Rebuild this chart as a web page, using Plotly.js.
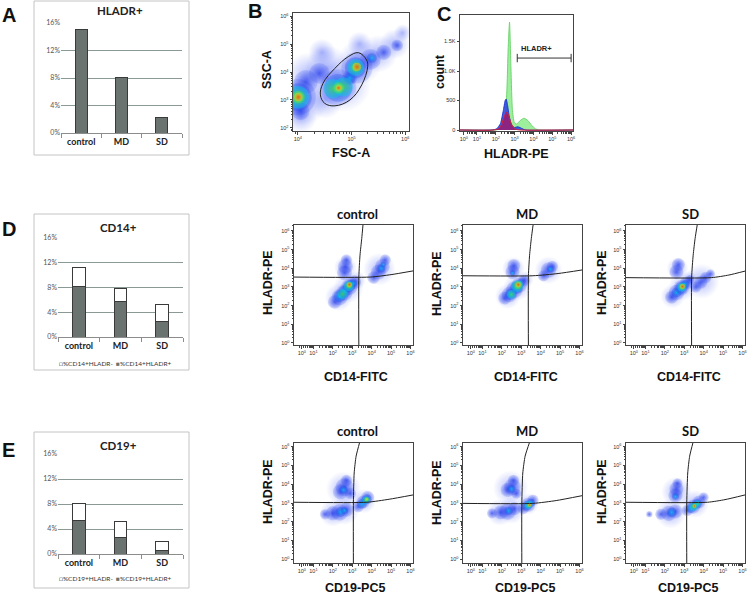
<!DOCTYPE html>
<html><head><meta charset="utf-8">
<script src="https://cdn.plot.ly/plotly-3.0.1.min.js"></script>
<style>html,body{margin:0;padding:0;background:#fff}#chart{width:747px;height:594px}</style>
</head><body><div id="chart"></div>
<script>
const W = 747, H = 594;

// ---------- bar chart data (percent) ----------
const groups = ['control', 'MD', 'SD'];
const hladrPct = [15.0, 8.1, 2.3];
const cd14HladrPos = [8.2, 5.7, 2.5];
const cd14HladrNeg = [3.0, 2.1, 2.8];
const cd19HladrPos = [5.3, 2.7, 0.6];
const cd19HladrNeg = [2.85, 2.45, 1.4];
const pctTicks = [0, 4, 8, 12, 16];

// ---------- histogram (panel C), x in log10 units, y = count ----------
const histGreenX = [0.1, 2.0, 2.25, 2.45, 2.58, 2.66, 2.73, 2.8, 2.88, 2.98, 3.1, 3.3, 3.5, 3.7, 3.9, 4.1, 4.3, 6.1];
const histGreenY = [0, 0, 20, 120, 600, 1400, 1830, 1100, 350, 130, 100, 160, 200, 160, 80, 20, 0, 0];
const histBlueX = [0.1, 1.8, 2.05, 2.25, 2.4, 2.5, 2.55, 2.62, 2.72, 2.85, 3.0, 3.15, 3.3, 3.45, 3.6, 6.1];
const histBlueY = [0, 0, 20, 110, 330, 500, 525, 430, 220, 80, 40, 55, 40, 15, 0, 0];
const histRedX = [0.1, 1.9, 2.15, 2.3, 2.45, 2.55, 2.6, 2.7, 2.8, 2.95, 3.1, 3.3, 6.1];
const histRedY = [0, 0, 20, 90, 230, 295, 300, 230, 120, 40, 10, 0, 0];
const hladrGateX = [3.14, 6.0];
const hladrGateY = [1220, 1220];

// ---------- flow density clusters: x,y in log10 units, spread in decades, density level 0-5 ----------
// Panel B (FSC-A vs SSC-A)
const bX = [4.1,4.2,4.55,4.85,5.15,5.5,5.8,4.05,4.5,4.45,5.15,5.95, 4.0,4.05,4.15,4.4,4.75,5.1,5.35,5.6,5.85,4.97, 4.0,4.75,5.07,4.97,5.38, 4.0,4.65,4.85,5.08, 4.01,4.76,5.09, 4.01,4.76,5.1];
const bY = [3.0,3.9,4.15,3.55,4.35,4.65,5.0,2.4,3.0,4.7,5.0,5.4, 3.1,2.6,3.65,3.95,3.45,4.15,4.45,4.7,4.95,3.8, 3.1,3.43,4.15,3.78,4.5, 3.1,3.4,3.47,4.16, 3.1,3.43,4.17, 3.1,3.43,4.18];
const bSpread = [0.75,0.67,0.67,0.82,0.67,0.56,0.45,0.49,0.56,0.41,0.37,0.26, 0.52,0.26,0.34,0.3,0.52,0.45,0.3,0.22,0.17,0.22, 0.37,0.37,0.28,0.15,0.13, 0.28,0.24,0.24,0.21, 0.15,0.13,0.11, 0.09,0.06,0.09];
const bLevel = [0,0,0,0,0,0,0,0,0,0,0,0, 1,1,1,1,1,1,1,1,1,1, 2,2,2,2,2, 3,3,3,3, 4,4,4, 5,5,5];
const bGateX = [5.13,5.28,5.30,5.19,4.97,4.69,4.50,4.42,4.47,4.69,4.94,5.13];
const bGateY = [4.69,4.43,4.19,3.54,3.0,2.79,2.88,3.18,3.60,4.13,4.55,4.69];

// Panel D: CD14-FITC vs HLADR-PE
const dCtrlX = [2.65,2.3,2.8,3.2,4.4, 2.6,2.65,2.7,2.1,2.35,2.6,2.85,3.1,4.1,4.35,4.55,4.7, 2.35,2.6,2.85,3.05,4.5,4.6, 2.5,2.82, 2.85, 2.85];
const dCtrlY = [4.05,2.45,2.95,3.35,3.95, 3.75,4.1,4.45,2.2,2.45,2.7,3.0,3.25,3.5,3.8,4.1,4.45, 2.5,2.75,3.05,3.2,4.0,4.2, 2.62,3.05, 3.1, 3.12];
const dCtrlSpread = [0.95,1.15,1.25,0.8,1.35, 0.6,0.6,0.45,0.55,0.65,0.65,0.65,0.55,0.5,0.6,0.6,0.45, 0.45,0.45,0.45,0.3,0.3,0.2, 0.35,0.35, 0.2, 0.15];
const dCtrlLevel = [0,0,0,0,0, 1,1,1,1,1,1,1,1,1,1,1,1, 2,2,2,2,2,2, 3,3, 4, 5];

const dMdX = [2.6,2.3,2.8,3.2,4.4, 2.55,2.62,2.15,2.4,2.65,2.9,3.15,4.15,4.4,4.6, 2.55,2.45,2.75,2.95,4.5, 2.5,2.8, 2.85, 2.85];
const dMdY = [4.0,2.5,3.0,3.4,3.9, 3.8,4.15,2.4,2.6,2.85,3.1,3.35,3.6,3.9,4.1, 3.75,2.6,2.95,3.2,3.95, 2.6,3.05, 3.1, 3.12];
const dMdSpread = [0.95,1.05,1.15,0.7,1.15, 0.57,0.52,0.52,0.62,0.67,0.62,0.46,0.46,0.62,0.46, 0.2,0.41,0.46,0.31,0.26, 0.31,0.41, 0.26, 0.15];
const dMdLevel = [0,0,0,0,0, 1,1,1,1,1,1,1,1,1,1, 2,2,2,2,2, 3,3, 4, 5];

const dSdX = [2.65,2.4,2.9,3.25,3.9, 2.6,2.7,2.35,2.6,2.85,3.1,3.3,3.6,3.85,4.1,4.35, 2.6,2.85,3.05, 2.88, 2.9, 2.91];
const dSdY = [4.0,2.5,3.0,3.4,3.3, 3.8,4.2,2.45,2.7,2.95,3.2,3.4,3.0,3.25,3.5,3.7, 2.7,2.95,3.15, 3.0, 3.02, 3.02];
const dSdSpread = [0.9,1.0,1.15,0.7,1.45, 0.57,0.52,0.52,0.62,0.62,0.52,0.36,0.46,0.52,0.46,0.36, 0.36,0.46,0.31, 0.31, 0.2, 0.15];
const dSdLevel = [0,0,0,0,0, 1,1,1,1,1,1,1,1,1,1,1, 2,2,2, 3, 4, 5];

// Panel E: CD19-PC5 vs HLADR-PE
const eCtrlX = [2.55,2.0,2.6,3.6, 2.4,2.6,2.7,2.9,1.6,2.0,2.35,2.7,3.3,3.55,3.8, 2.55,2.4,2.6,3.5,3.75, 3.7, 3.75];
const eCtrlY = [3.75,2.45,2.6,3.1, 3.6,3.85,4.2,3.5,2.4,2.45,2.5,2.65,2.8,3.05,3.3, 3.7,2.52,2.6,2.95,3.2, 3.15, 3.2];
const eCtrlSpread = [1.45,1.1,1.2,1.0, 0.62,0.72,0.46,0.46,0.41,0.57,0.67,0.57,0.46,0.52,0.52, 0.31,0.36,0.26,0.36,0.36, 0.26, 0.15];
const eCtrlLevel = [0,0,0,0, 1,1,1,1,1,1,1,1,1,1,1, 2,2,2,2,2, 3, 4];

const eMdX = [2.45,1.9,2.5,3.35, 2.3,2.55,2.6,2.75,1.5,1.95,2.3,2.65,3.1,3.35,3.6, 2.5,2.35,3.3,3.5, 3.38, 3.42, 3.43];
const eMdY = [3.8,2.5,2.6,2.95, 3.7,3.85,4.2,3.5,2.45,2.5,2.55,2.7,2.7,2.9,3.15, 3.75,2.58,2.85,3.0, 2.9, 2.9, 2.89];
const eMdSpread = [1.45,1.1,1.1,0.9, 0.57,0.67,0.46,0.41,0.41,0.57,0.67,0.52,0.46,0.57,0.46, 0.31,0.31,0.36,0.31, 0.26, 0.15, 0.1];
const eMdLevel = [0,0,0,0, 1,1,1,1,1,1,1,1,1,1,1, 2,2,2,2, 3, 4, 5];

const eSdX = [2.6,2.3,3.55, 2.55,2.6,2.65,1.2,1.8,2.2,2.55,3.15,3.45,3.75,4.0, 2.55,2.35,3.35,3.65, 3.5,3.7, 3.52, 3.53];
const eSdY = [3.6,2.45,2.95, 3.4,3.75,4.05,2.4,2.4,2.45,2.55,2.6,2.8,3.05,3.3, 3.35,2.5,2.72,2.95, 2.82,2.98, 2.84, 2.84];
const eSdSpread = [1.25,1.25,1.15, 0.57,0.57,0.41,0.26,0.46,0.62,0.57,0.46,0.57,0.52,0.41, 0.26,0.36,0.36,0.36, 0.31,0.2, 0.15, 0.1];
const eSdLevel = [0,0,0, 1,1,1,1,1,1,1,1,1,1,1, 2,2,2,2, 3,3, 4, 5];

// quadrant gate lines (log10 units)
const dCtrlHX = [0, 3.92, 5.0, 6.13], dCtrlHY = [3.53, 3.53, 3.66, 3.86];
const dCtrlVX = [3.34, 3.34, 3.40, 3.49, 3.56], dCtrlVY = [-0.3, 3.53, 4.7, 5.6, 6.4];
const dMdHX = [0, 3.6, 4.9, 6.13], dMdHY = [3.6, 3.6, 3.72, 3.91];
const dMdVX = [3.37, 3.37, 3.43, 3.52, 3.62], dMdVY = [-0.3, 3.6, 4.7, 5.6, 6.4];
const dSdHX = [0, 4.4, 5.3, 6.13], dSdHY = [3.5, 3.5, 3.64, 3.85];
const dSdVX = [3.38, 3.38, 3.46, 3.56, 3.68], dSdVY = [-0.3, 3.5, 4.7, 5.6, 6.4];
const eCtrlHX = [0, 3.75, 4.9, 6.13], eCtrlHY = [3.04, 3.04, 3.2, 3.43];
const eCtrlVX = [3.06, 3.06, 3.1, 3.2, 3.4], eCtrlVY = [-0.3, 3.04, 4.6, 5.5, 6.3];
const eMdHX = [0, 3.6, 4.8, 6.13], eMdHY = [2.98, 2.98, 3.13, 3.39];
const eMdVX = [3.03, 3.03, 3.08, 3.2, 3.45], eMdVY = [-0.3, 2.98, 4.6, 5.5, 6.3];
const eSdHX = [0, 4.2, 5.1, 6.13], eSdHY = [3.04, 3.04, 3.18, 3.43];
const eSdVX = [3.13, 3.13, 3.18, 3.28, 3.47], eSdVY = [-0.3, 3.04, 4.6, 5.5, 6.3];

// ---------- helpers ----------
const dx = (l, r) => [l / W, r / W];
const dy = (t, b) => [1 - b / H, 1 - t / H];
// density colour map: centre colour, rim colour, size factor for the soft rim
const densCentre = ['rgba(60,85,245,0.6)', 'rgba(25,50,235,1)', 'rgba(0,205,240,1)',
                    'rgba(70,225,70,1)', 'rgba(250,240,20,1)', 'rgba(245,40,10,1)'];
const densEdge = ['rgba(90,110,245,0)', 'rgba(40,65,235,0.2)', 'rgba(30,70,235,0.35)',
                  'rgba(0,205,240,0.55)', 'rgba(70,225,70,0.6)', 'rgba(250,200,20,0.6)'];
const densScale = [1.25, 1.3, 1.4, 1.5, 1.6, 1.7];
const sup = n => '10<sup>' + n + '</sup>';
const minorTicks = [];
for (let d = 0; d < 7; d++) for (let k = 2; k < 10; k++) minorTicks.push(d + Math.log10(k));

const traces = [];
const layout = {
  width: W, height: H, margin: {l: 0, r: 0, t: 0, b: 0},
  paper_bgcolor: '#fff', plot_bgcolor: '#fff', showlegend: false,
  barmode: 'stack', annotations: [], shapes: []
};

// bar panels
function barAxes(n, l, r, t, b) {
  const xs = n === 1 ? '' : n;
  layout['xaxis' + xs] = {domain: dx(l, r), anchor: 'y' + xs, type: 'category',
    showline: true, linecolor: '#8c8c8c', ticks: 'outside', tickson: 'boundaries', ticklen: 4,
    tickcolor: '#8c8c8c', tickfont: {family: 'Lato', size: 9, color: '#222', weight: 'bold'},
    showgrid: false, zeroline: false, fixedrange: true};
  layout['yaxis' + xs] = {domain: dy(t, b), anchor: 'x' + xs, range: [0, 16], tickmode: 'array',
    tickvals: pctTicks, ticktext: pctTicks.map(v => v + '%'),
    tickfont: {family: 'Lato', size: 7, color: '#555'}, showgrid: true,
    gridcolor: '#8a9993', gridwidth: 1, zeroline: false, showline: false, ticks: '', fixedrange: true};
}
barAxes(1, 61, 182, 23, 133);
barAxes(4, 58, 183, 238, 337);
barAxes(5, 58, 183, 454, 554);
const grayBar = {color: '#6b7370', line: {color: '#3a3a3a', width: 1}};
const whiteBar = {color: '#ffffff', line: {color: '#3a3a3a', width: 1}};
traces.push({type: 'bar', x: groups, y: hladrPct, xaxis: 'x', yaxis: 'y', width: 0.3, marker: grayBar, hoverinfo: 'skip'});
traces.push({type: 'bar', x: groups, y: cd14HladrPos, xaxis: 'x4', yaxis: 'y4', width: 0.31, marker: grayBar, name: '%CD14+HLADR+'});
traces.push({type: 'bar', x: groups, y: cd14HladrNeg, xaxis: 'x4', yaxis: 'y4', width: 0.31, marker: whiteBar, name: '%CD14+HLADR-'});
traces.push({type: 'bar', x: groups, y: cd19HladrPos, xaxis: 'x5', yaxis: 'y5', width: 0.31, marker: grayBar, name: '%CD19+HLADR+'});
traces.push({type: 'bar', x: groups, y: cd19HladrNeg, xaxis: 'x5', yaxis: 'y5', width: 0.31, marker: whiteBar, name: '%CD19+HLADR-'});

// flow / histogram axes
const axBase = {showline: true, mirror: true, linecolor: '#444', linewidth: 1, ticks: 'outside',
  ticklen: 2.5, tickwidth: 1, tickcolor: '#444', tickfont: {family: 'Liberation Sans', size: 5.5, color: '#333'},
  showgrid: false, zeroline: false, fixedrange: true};
function flowAxes(n, l, r, t, b, xr, yr, xtv, xtt, ytv, ytt, xMinor, yMinor) {
  layout['xaxis' + n] = Object.assign({}, axBase, {domain: dx(l, r), anchor: 'y' + n, range: xr,
    tickmode: 'array', tickvals: xtv, ticktext: xtt,
    minor: xMinor ? {tickmode: 'array', tickvals: minorTicks, ticks: 'outside', ticklen: 1.5, tickcolor: '#444'} : undefined});
  layout['yaxis' + n] = Object.assign({}, axBase, {domain: dy(t, b), anchor: 'x' + n, range: yr,
    tickmode: 'array', tickvals: ytv, ticktext: ytt,
    minor: yMinor ? {tickmode: 'array', tickvals: minorTicks, ticks: 'outside', ticklen: 1.5, tickcolor: '#444'} : undefined});
  return (r - l) / (xr[1] - xr[0]);
}
const flowXV = [0.4, 1, 2, 3, 4, 5, 6], flowXT = [0, 1, 2, 3, 4, 5, 6].map(sup);
const flowYV = [0, 1, 2, 3, 4, 5, 6], flowYT = flowYV.map(sup);

// radial gradient: marker.color is the rim colour, gradient.color the centre colour
function blobTrace(xs, ys, sp, lv, n, ppd) {
  const idx = xs.map((_, i) => i).sort((a, b) => lv[a] - lv[b]);
  return {type: 'scatter', mode: 'markers', x: idx.map(i => xs[i]), y: idx.map(i => ys[i]),
    xaxis: 'x' + n, yaxis: 'y' + n, hoverinfo: 'skip',
    marker: {size: idx.map(i => sp[i] * ppd * densScale[lv[i]]), color: idx.map(i => densEdge[lv[i]]),
      gradient: {type: 'radial', color: idx.map(i => densCentre[lv[i]])}, line: {width: 0}}};
}
function lineTrace(xs, ys, n, closed) {
  return {type: 'scatter', mode: 'lines', x: xs, y: ys, xaxis: 'x' + n, yaxis: 'y' + n, hoverinfo: 'skip',
    line: {color: '#222', width: 1, shape: 'spline', smoothing: closed ? 1.1 : 0.6}};
}

// Panel B
const ppdB = flowAxes(2, 293, 409, 13, 131, [3.91, 6.07], [1.89, 6.11], [4, 5, 6], [4, 5, 6].map(sup), [2, 3, 4, 5, 6], [2, 3, 4, 5, 6].map(sup), true, true);
traces.push(blobTrace(bX, bY, bSpread, bLevel, 2, ppdB));
traces.push(lineTrace(bGateX, bGateY, 2, true));

// Panel C
flowAxes(3, 460, 573, 15, 131, [0.1, 6.1], [-17, 1950], [0.3, 1, 2, 3, 4, 5, 6], [0, 1, 2, 3, 4, 5, 6].map(sup), [0, 500, 1000, 1500], ['0', '500', '1.0K', '1.5K'], true, false);
traces.push({type: 'scatter', mode: 'lines', x: histGreenX, y: histGreenY, xaxis: 'x3', yaxis: 'y3', fill: 'tozeroy',
  fillcolor: 'rgba(140,235,140,0.85)', line: {color: '#6fd66f', width: 1, shape: 'spline', smoothing: 0.5}, hoverinfo: 'skip'});
traces.push({type: 'scatter', mode: 'lines', x: histBlueX, y: histBlueY, xaxis: 'x3', yaxis: 'y3', fill: 'tozeroy',
  fillcolor: 'rgba(45,70,225,0.88)', line: {color: '#2038d0', width: 1, shape: 'spline', smoothing: 0.5}, hoverinfo: 'skip'});
traces.push({type: 'scatter', mode: 'lines', x: histRedX, y: histRedY, xaxis: 'x3', yaxis: 'y3', fill: 'tozeroy',
  fillcolor: 'rgba(150,30,120,0.9)', line: {color: '#e0202a', width: 1, shape: 'spline', smoothing: 0.5}, hoverinfo: 'skip'});
traces.push({type: 'scatter', mode: 'lines+markers', x: hladrGateX, y: hladrGateY, xaxis: 'x3', yaxis: 'y3', hoverinfo: 'skip',
  line: {color: '#333', width: 1}, marker: {symbol: 'line-ns', size: 6, line: {color: '#333', width: 1}}});

// Panels D and E scatter plots
const flowPanels = [
  [6, 294, 413, 225, 345, [-0.11, 6.32], dCtrlX, dCtrlY, dCtrlSpread, dCtrlLevel, dCtrlHX, dCtrlHY, dCtrlVX, dCtrlVY],
  [7, 463, 582, 225, 345, [-0.11, 6.32], dMdX, dMdY, dMdSpread, dMdLevel, dMdHX, dMdHY, dMdVX, dMdVY],
  [8, 626, 745, 225, 345, [-0.11, 6.32], dSdX, dSdY, dSdSpread, dSdLevel, dSdHX, dSdHY, dSdVX, dSdVY],
  [9, 294, 413, 443, 563, [-0.2, 6.2], eCtrlX, eCtrlY, eCtrlSpread, eCtrlLevel, eCtrlHX, eCtrlHY, eCtrlVX, eCtrlVY],
  [10, 463, 582, 443, 563, [-0.2, 6.2], eMdX, eMdY, eMdSpread, eMdLevel, eMdHX, eMdHY, eMdVX, eMdVY],
  [11, 626, 745, 443, 563, [-0.2, 6.2], eSdX, eSdY, eSdSpread, eSdLevel, eSdHX, eSdHY, eSdVX, eSdVY]
];
flowPanels.forEach(p => {
  const ppd = flowAxes(p[0], p[1], p[2], p[3], p[4], [0, 6.13], p[5], flowXV, flowXT, flowYV, flowYT, true, true);
  traces.push(blobTrace(p[6], p[7], p[8], p[9], p[0], ppd));
  traces.push(lineTrace(p[10], p[11], p[0], false));
  traces.push(lineTrace(p[12], p[13], p[0], false));
});

// ---------- text ----------
function ann(text, x, y, size, opt) {
  layout.annotations.push(Object.assign({text: text, xref: 'paper', yref: 'paper', x: x / W, y: 1 - y / H,
    xanchor: 'center', yanchor: 'middle', showarrow: false,
    font: {family: 'Liberation Sans', size: size, color: '#111', weight: 'bold'}}, opt || {}));
}
// panel letters
ann('A', 9, 15, 20); ann('B', 255, 11, 20); ann('C', 444, 14, 20); ann('D', 9, 229, 20); ann('E', 8, 450, 20);
// bar titles
const lato = (s, c, w) => ({family: 'Lato', size: s, color: c || '#222', weight: w || 'bold'});
ann('HLADR+', 120, 10, 11.5, {font: lato(11.5)});
ann('CD14+', 118, 227, 11.5, {font: lato(11.5)});
ann('CD19+', 118, 445, 11.5, {font: lato(11.5)});
// legends for stacked bars
ann('□%CD14+HLADR-', 57, 363, 6.5, {xanchor: 'left', font: lato(6.5, '#333', 'normal')});
ann('<span style="color:#6b7370">■</span>%CD14+HLADR+', 114, 363, 6.5, {xanchor: 'left', font: lato(6.5, '#333', 'normal')});
ann('□%CD19+HLADR-', 57, 578, 6.5, {xanchor: 'left', font: lato(6.5, '#333', 'normal')});
ann('<span style="color:#6b7370">■</span>%CD19+HLADR+', 114, 578, 6.5, {xanchor: 'left', font: lato(6.5, '#333', 'normal')});
// B / C axis titles
ann('SSC-A', 267, 70, 12.5, {textangle: -90});
ann('FSC-A', 351, 153, 12.5);
ann('count', 440, 72, 12.5, {textangle: -90});
ann('HLADR-PE', 516, 154, 12.5);
layout.annotations.push({text: 'HLADR+', xref: 'x3', yref: 'y3', x: 4.15, y: 1380, showarrow: false,
  xanchor: 'center', yanchor: 'middle', font: {family: 'Liberation Sans', size: 7.5, color: '#222', weight: 'bold'}});
// scatter titles
const cols = [[357, 268], [527, 437], [690, 602]];
const names = ['control', 'MD', 'SD'];
cols.forEach((c, i) => {
  ann(names[i], c[0], 214, 13, {font: lato(13, '#111')});
  ann(names[i], c[0], 431, 13, {font: lato(13, '#111')});
  ann('HLADR-PE', c[1], 283, 12.5, {textangle: -90});
  ann('HLADR-PE', c[1], 492, 12.5, {textangle: -90});
  ann('CD14-FITC', c[0] - 1, 377, 12.5);
  ann('CD19-PC5', c[0] - 2, 588, 12.5);
});

// frames around bar panels
[[34, 189, 1, 155], [34, 189, 214, 370], [34, 189, 432, 588]].forEach(f => {
  layout.shapes.push({type: 'rect', xref: 'paper', yref: 'paper', x0: f[0] / W, x1: f[1] / W,
    y0: 1 - f[3] / H, y1: 1 - f[2] / H, line: {color: '#c4c4c4', width: 1}, fillcolor: 'rgba(0,0,0,0)', layer: 'below'});
});

Plotly.newPlot('chart', traces, layout, {staticPlot: true, displayModeBar: false});
</script>
</body></html>
